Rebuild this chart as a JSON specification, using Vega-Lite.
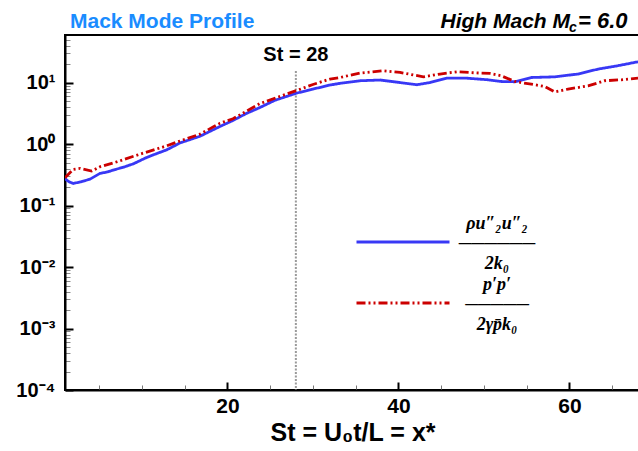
{
  "$schema": "https://vega.github.io/schema/vega-lite/v6.json",
  "autosize": {"type": "none"},
  "padding": {"left": 65, "top": 35, "right": 0, "bottom": 61},
  "width": 575,
  "height": 355,
  "background": "white",
  "config": {
    "view": {"stroke": "black", "strokeWidth": 2},
    "font": "Liberation Sans"
  },
  "datasets": {
    "lines": [
      {"x": 1.0, "y": 0.275, "s": "rho"},
      {"x": 1.47, "y": 0.245, "s": "rho"},
      {"x": 1.97, "y": 0.23, "s": "rho"},
      {"x": 2.87, "y": 0.245, "s": "rho"},
      {"x": 3.92, "y": 0.27, "s": "rho"},
      {"x": 5.09, "y": 0.335, "s": "rho"},
      {"x": 6.0, "y": 0.355, "s": "rho"},
      {"x": 6.65, "y": 0.38, "s": "rho"},
      {"x": 8.0, "y": 0.43, "s": "rho"},
      {"x": 8.99, "y": 0.48, "s": "rho"},
      {"x": 10.56, "y": 0.61, "s": "rho"},
      {"x": 11.9, "y": 0.72, "s": "rho"},
      {"x": 12.89, "y": 0.81, "s": "rho"},
      {"x": 14.45, "y": 1.05, "s": "rho"},
      {"x": 16.79, "y": 1.35, "s": "rho"},
      {"x": 19.13, "y": 1.95, "s": "rho"},
      {"x": 20.68, "y": 2.45, "s": "rho"},
      {"x": 22.17, "y": 3.15, "s": "rho"},
      {"x": 23.81, "y": 3.97, "s": "rho"},
      {"x": 25.56, "y": 5.2, "s": "rho"},
      {"x": 28.1, "y": 6.8, "s": "rho"},
      {"x": 30.0, "y": 7.9, "s": "rho"},
      {"x": 31.99, "y": 9.2, "s": "rho"},
      {"x": 33.16, "y": 9.8, "s": "rho"},
      {"x": 35.5, "y": 10.8, "s": "rho"},
      {"x": 37.84, "y": 11.1, "s": "rho"},
      {"x": 40.18, "y": 10.1, "s": "rho"},
      {"x": 42.13, "y": 9.3, "s": "rho"},
      {"x": 43.69, "y": 10.1, "s": "rho"},
      {"x": 45.64, "y": 11.9, "s": "rho"},
      {"x": 47.98, "y": 11.9, "s": "rho"},
      {"x": 50.47, "y": 11.2, "s": "rho"},
      {"x": 52.03, "y": 10.5, "s": "rho"},
      {"x": 53.6, "y": 10.4, "s": "rho"},
      {"x": 55.54, "y": 12.2, "s": "rho"},
      {"x": 58.27, "y": 12.5, "s": "rho"},
      {"x": 61.0, "y": 13.9, "s": "rho"},
      {"x": 63.34, "y": 16.7, "s": "rho"},
      {"x": 65.68, "y": 19.0, "s": "rho"},
      {"x": 68.02, "y": 22.0, "s": "rho"},
      {"x": 1.0, "y": 0.286, "s": "p"},
      {"x": 1.97, "y": 0.39, "s": "p"},
      {"x": 2.75, "y": 0.405, "s": "p"},
      {"x": 4.12, "y": 0.366, "s": "p"},
      {"x": 5.09, "y": 0.43, "s": "p"},
      {"x": 7.12, "y": 0.52, "s": "p"},
      {"x": 9.77, "y": 0.69, "s": "p"},
      {"x": 12.89, "y": 0.94, "s": "p"},
      {"x": 14.45, "y": 1.13, "s": "p"},
      {"x": 16.79, "y": 1.46, "s": "p"},
      {"x": 19.13, "y": 2.2, "s": "p"},
      {"x": 20.65, "y": 2.6, "s": "p"},
      {"x": 23.81, "y": 4.6, "s": "p"},
      {"x": 28.1, "y": 7.5, "s": "p"},
      {"x": 30.0, "y": 9.4, "s": "p"},
      {"x": 31.99, "y": 11.5, "s": "p"},
      {"x": 33.16, "y": 12.2, "s": "p"},
      {"x": 35.5, "y": 14.4, "s": "p"},
      {"x": 38.23, "y": 15.7, "s": "p"},
      {"x": 40.18, "y": 14.8, "s": "p"},
      {"x": 42.91, "y": 12.5, "s": "p"},
      {"x": 44.86, "y": 13.9, "s": "p"},
      {"x": 46.81, "y": 15.1, "s": "p"},
      {"x": 49.54, "y": 14.4, "s": "p"},
      {"x": 50.71, "y": 14.2, "s": "p"},
      {"x": 52.03, "y": 13.0, "s": "p"},
      {"x": 53.6, "y": 10.5, "s": "p"},
      {"x": 55.54, "y": 9.5, "s": "p"},
      {"x": 57.11, "y": 8.7, "s": "p"},
      {"x": 58.27, "y": 7.1, "s": "p"},
      {"x": 59.83, "y": 7.9, "s": "p"},
      {"x": 62.17, "y": 8.9, "s": "p"},
      {"x": 64.12, "y": 10.8, "s": "p"},
      {"x": 66.06, "y": 11.2, "s": "p"},
      {"x": 68.02, "y": 11.9, "s": "p"}
    ],
    "marker": [{"x": 28, "ytop": 15.5, "ybot": 0.0001, "label": "St = 28", "ylab": 22.6}]
  },
  "layer": [
    {
      "data": {"name": "marker"},
      "mark": {"type": "rule", "color": "#9a9a9a", "strokeWidth": 2, "strokeDash": [2, 1.5]},
      "encoding": {
        "x": {"field": "x", "type": "quantitative"},
        "y": {"field": "ytop", "type": "quantitative"},
        "y2": {"field": "ybot"}
      }
    },
    {
      "data": {"name": "marker"},
      "mark": {"type": "text", "font": "Liberation Sans", "fontSize": 20, "fontWeight": "bold", "baseline": "alphabetic", "align": "center", "color": "black"},
      "encoding": {
        "x": {"field": "x", "type": "quantitative"},
        "y": {"field": "ylab", "type": "quantitative"},
        "text": {"field": "label"}
      }
    },
    {
      "data": {"name": "lines"},
      "mark": {"type": "line", "strokeWidth": 2.8, "clip": true},
      "encoding": {
        "x": {
          "field": "x", "type": "quantitative",
          "scale": {"domain": [1, 68.25], "nice": false, "zero": false},
          "axis": {
            "values": [5, 10, 15, 20, 25, 30, 35, 40, 45, 50, 55, 60, 65],
            "labelExpr": "datum.value % 20 == 0 ? datum.label : ''",
            "labelFont": "Liberation Sans", "labelFontSize": 21, "labelFontWeight": "bold", "labelColor": "black",
            "labelPadding": 13,
            "domainColor": "black", "domainWidth": 2,
            "tickSize": {"condition": {"test": "datum.value % 20 == 0", "value": -8}, "value": -5},
            "tickColor": {"condition": {"test": "datum.value % 20 == 0", "value": "black"}, "value": "#777"},
            "tickWidth": {"condition": {"test": "datum.value % 20 == 0", "value": 2}, "value": 1},
            "grid": false,
            "title": "St = U₀t/L = x*",
            "titleFont": "Liberation Sans", "titleFontSize": 25, "titleFontWeight": "bold", "titleColor": "black",
            "titleBaseline": "alphabetic", "titleY": 50
          }
        },
        "y": {
          "field": "y", "type": "quantitative",
          "scale": {"type": "log", "domain": [0.0001, 60], "nice": false},
          "axis": {
            "values": [0.0001, 0.0002, 0.0003, 0.0004, 0.0005, 0.0006, 0.0007, 0.0008, 0.0009,
                       0.001, 0.002, 0.003, 0.004, 0.005, 0.006, 0.007, 0.008, 0.009,
                       0.01, 0.02, 0.03, 0.04, 0.05, 0.06, 0.07, 0.08, 0.09,
                       0.1, 0.2, 0.3, 0.4, 0.5, 0.6, 0.7, 0.8, 0.9,
                       1, 2, 3, 4, 5, 6, 7, 8, 9, 10, 20, 30, 40, 50],
            "labelExpr": "abs(log(datum.value)/LN10 - round(log(datum.value)/LN10)) < 0.001 ? ['10⁻⁴','10⁻³','10⁻²','10⁻¹','10⁰','10¹'][round(log(datum.value)/LN10)+4] : ''",
            "labelFont": "Liberation Sans", "labelFontSize": 20, "labelFontWeight": "bold", "labelColor": "black",
            "labelPadding": 18,
            "domainColor": "black", "domainWidth": 2,
            "tickSize": {"condition": {"test": "abs(log(datum.value)/LN10 - round(log(datum.value)/LN10)) < 0.001", "value": -8}, "value": -5},
            "tickColor": {"condition": {"test": "abs(log(datum.value)/LN10 - round(log(datum.value)/LN10)) < 0.001", "value": "black"}, "value": "#888"},
            "tickWidth": {"condition": {"test": "abs(log(datum.value)/LN10 - round(log(datum.value)/LN10)) < 0.001", "value": 2}, "value": 1},
            "grid": false,
            "title": null
          }
        },
        "color": {
          "field": "s", "type": "nominal",
          "scale": {"domain": ["rho", "p"], "range": ["#3838f5", "#cc0000"]},
          "legend": {
            "title": null, "orient": "none", "legendX": 327, "legendY": 196,
            "symbolType": "M-5,0H5", "symbolSize": 346, "symbolStrokeWidth": 3,
            "labelExpr": "datum.label == 'rho' ? ['ρu″₂u″₂', '──────', '2k₀'] : ['p′p′', '─────', '2γp̄k₀']",
            "labelFont": "Liberation Serif", "labelFontSize": 18, "labelFontWeight": "bold", "labelFontStyle": "italic", "labelColor": "black",
            "labelAlign": "center", "labelOffset": 83, "labelLimit": 0, "labelLineHeight": 18,
            "rowPadding": 3,
            "encode": {"labels": {"update": {"dy": {"value": -18}}}}
          }
        },
        "strokeDash": {
          "field": "s", "type": "nominal",
          "scale": {"domain": ["rho", "p"], "range": [[1, 0], [9, 3, 2, 3, 2, 3]]},
          "legend": {
            "title": null, "orient": "none", "legendX": 327, "legendY": 196,
            "symbolType": "M-5,0H5", "symbolSize": 346, "symbolStrokeWidth": 3,
            "labelExpr": "datum.label == 'rho' ? ['ρu″₂u″₂', '──────', '2k₀'] : ['p′p′', '─────', '2γp̄k₀']",
            "labelFont": "Liberation Serif", "labelFontSize": 18, "labelFontWeight": "bold", "labelFontStyle": "italic", "labelColor": "black",
            "labelAlign": "center", "labelOffset": 83, "labelLimit": 0, "labelLineHeight": 18,
            "rowPadding": 3,
            "encode": {"labels": {"update": {"dy": {"value": -18}}}}
          }
        }
      }
    },
    {
      "data": {"values": [{}]},
      "mark": {"type": "text", "font": "Liberation Sans", "fontSize": 21, "fontWeight": "bold", "baseline": "alphabetic", "align": "left", "color": "#1a8cff"},
      "encoding": {
        "x": {"datum": 1.58, "type": "quantitative"},
        "y": {"datum": 79, "type": "quantitative"},
        "text": {"value": "Mack Mode Profile"}
      }
    },
    {
      "data": {"values": [{}]},
      "mark": {"type": "text", "font": "Liberation Sans", "fontSize": 21, "fontWeight": "bold", "fontStyle": "italic", "baseline": "alphabetic", "align": "right", "color": "black"},
      "encoding": {
        "x": {"datum": 60.06, "type": "quantitative"},
        "y": {"datum": 79, "type": "quantitative"},
        "text": {"value": "High Mach M"}
      }
    },
    {
      "data": {"values": [{}]},
      "mark": {"type": "text", "font": "Liberation Sans", "fontSize": 14, "fontWeight": "bold", "fontStyle": "italic", "baseline": "alphabetic", "align": "left", "color": "black"},
      "encoding": {
        "x": {"datum": 59.95, "type": "quantitative"},
        "y": {"datum": 66, "type": "quantitative"},
        "text": {"value": "c"}
      }
    },
    {
      "data": {"values": [{}]},
      "mark": {"type": "text", "font": "Liberation Sans", "fontSize": 22, "fontWeight": "bold", "fontStyle": "italic", "baseline": "alphabetic", "align": "left", "color": "black"},
      "encoding": {
        "x": {"datum": 61.0, "type": "quantitative"},
        "y": {"datum": 79, "type": "quantitative"},
        "text": {"value": "=  6.0"}
      }
    }
  ]
}
